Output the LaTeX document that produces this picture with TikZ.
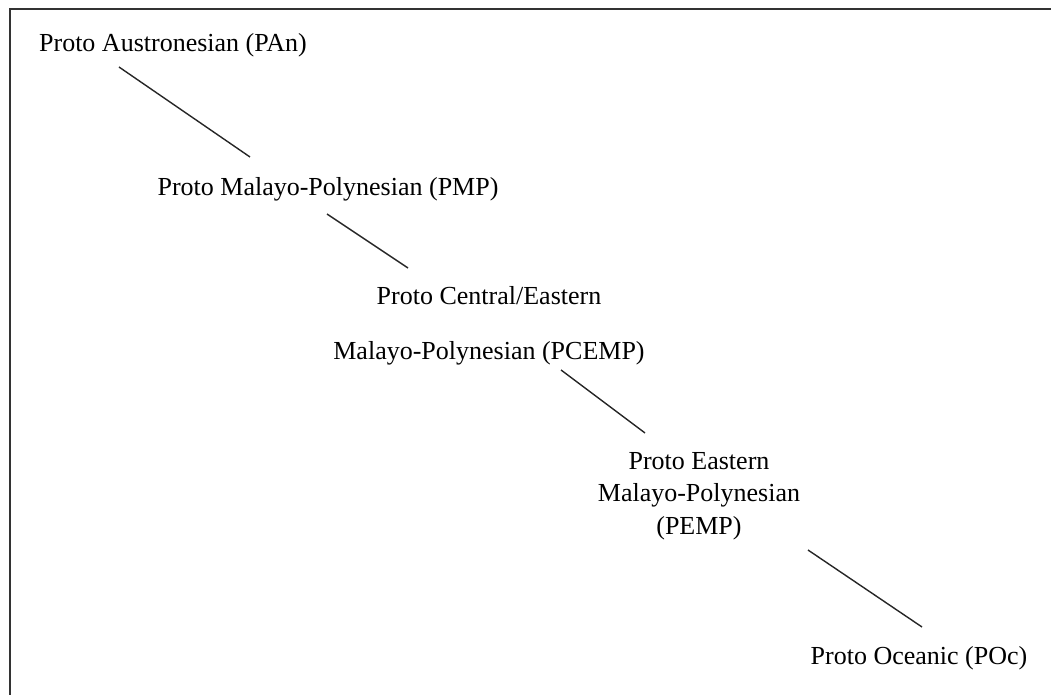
\documentclass[tikz,border=0pt]{standalone}
\usepackage{fontspec}
\setmainfont{Liberation Serif}
\usetikzlibrary{calc}
\tikzset{lang/.style={inner sep=0pt,align=center,font=\fontsize{13}{16.25}\selectfont},
link/.style={line width=0.7pt,black!85}}
\begin{document}
\begin{tikzpicture}[x=0.5pt,y=-0.5pt]
\useasboundingbox (0,0) rectangle (1051,695);
\draw[line width=1pt,black!80] (10,695) -- (10,9) -- (1051,9);
\node[lang] (pan) at (173,45) {Proto Austronesian (PAn)};
\node[lang] (pmp) at (328,189) {Proto Malayo-Polynesian (PMP)};
\node[lang] (pcemp) at (489,326) {Proto Central/Eastern\\[11pt]Malayo-Polynesian (PCEMP)};
\node[lang] (pemp) at (699,496) {Proto Eastern\\Malayo-Polynesian\\(PEMP)};
\node[lang] (poc) at (919,658) {Proto Oceanic (POc)};
%\draw (pan) -- (pmp);
\draw[link] ($(pan)+(-54,22)$) -- ($(pmp)+(-78,-32)$);
\draw[link] ($(pmp)+(-1,25)$) -- ($(pcemp)+(-81,-58)$);
\draw[link] ($(pcemp)+(72,44)$) -- ($(pemp)+(-54,-63)$);
\draw[link] ($(pemp)+(109,54)$) -- ($(poc)+(3,-31)$);
\end{tikzpicture}
\end{document}
